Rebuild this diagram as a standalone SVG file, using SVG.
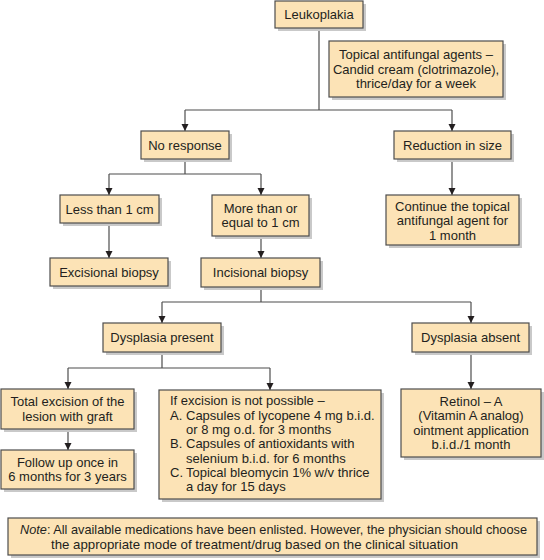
<svg xmlns="http://www.w3.org/2000/svg" width="544" height="560" viewBox="0 0 544 560">
<defs>
<style>
.box{fill:#fce3b6;stroke:#4d4d4d;stroke-width:1.2}
.sh{fill:#c9c9c9}
.t{font-family:"Liberation Sans",Arial,sans-serif;font-size:13px;fill:#231f20}
.c{text-anchor:middle}
.ln{fill:none;stroke:#4d4d4d;stroke-width:1.2}
</style>
<marker id="ar" markerWidth="8" markerHeight="8" refX="7" refY="4" orient="auto" markerUnits="userSpaceOnUse">
<path d="M0,0.5 L7,4 L0,7.5 Z" fill="#231f20"/>
</marker>
</defs>
<rect width="544" height="560" fill="#ffffff"/>
<g id="connectors">
<path class="ln" d="M319,28 V110"/>
<path class="ln" d="M185,110 H452"/>
<path class="ln" d="M185,110 V131" marker-end="url(#ar)"/>
<path class="ln" d="M452,110 V131" marker-end="url(#ar)"/>
<path class="ln" d="M185,159 V174 M109,174 H261"/>
<path class="ln" d="M109,174 V195" marker-end="url(#ar)"/>
<path class="ln" d="M261,174 V195" marker-end="url(#ar)"/>
<path class="ln" d="M452,159 V195" marker-end="url(#ar)"/>
<path class="ln" d="M109,223 V258" marker-end="url(#ar)"/>
<path class="ln" d="M261,236 V258" marker-end="url(#ar)"/>
<path class="ln" d="M261,287 V302 M162,302 H471"/>
<path class="ln" d="M162,302 V323" marker-end="url(#ar)"/>
<path class="ln" d="M471,302 V323" marker-end="url(#ar)"/>
<path class="ln" d="M162,352 V368 M68,368 H270"/>
<path class="ln" d="M68,368 V389" marker-end="url(#ar)"/>
<path class="ln" d="M270,368 V390" marker-end="url(#ar)"/>
<path class="ln" d="M471,352 V389" marker-end="url(#ar)"/>
<path class="ln" d="M68,429 V450" marker-end="url(#ar)"/>
</g>
<g id="leukoplakia">
<rect class="sh" x="278" y="4" width="88" height="27"/>
<rect class="box" x="275" y="1" width="88" height="27"/>
<text class="t c" x="319" y="19">Leukoplakia</text>
</g>
<g id="topical">
<rect class="sh" x="332" y="44" width="174" height="56"/>
<rect class="box" x="329" y="41" width="174" height="56"/>
<text class="t c" x="416" y="59">Topical antifungal agents –</text>
<text class="t c" x="416" y="73.5">Candid cream (clotrimazole),</text>
<text class="t c" x="416" y="88">thrice/day for a week</text>
</g>
<g id="no-response">
<rect class="sh" x="144" y="134" width="88" height="28"/>
<rect class="box" x="141" y="131" width="88" height="28"/>
<text class="t c" x="185" y="149.5">No response</text>
</g>
<g id="reduction">
<rect class="sh" x="397" y="134" width="117" height="28"/>
<rect class="box" x="394" y="131" width="117" height="28"/>
<text class="t c" x="452.5" y="149.5">Reduction in size</text>
</g>
<g id="less-than">
<rect class="sh" x="63" y="198" width="99" height="28"/>
<rect class="box" x="60" y="195" width="99" height="28"/>
<text class="t c" x="109.5" y="213.5">Less than 1 cm</text>
</g>
<g id="more-than">
<rect class="sh" x="215" y="198" width="97" height="41"/>
<rect class="box" x="212" y="195" width="97" height="41"/>
<text class="t c" x="260.5" y="212.5">More than or</text>
<text class="t c" x="260.5" y="227">equal to 1 cm</text>
</g>
<g id="continue">
<rect class="sh" x="389" y="198" width="133" height="50"/>
<rect class="box" x="386" y="195" width="133" height="50"/>
<text class="t c" x="452.5" y="210.5">Continue the topical</text>
<text class="t c" x="452.5" y="225">antifungal agent for</text>
<text class="t c" x="452.5" y="239.5">1 month</text>
</g>
<g id="excisional">
<rect class="sh" x="53" y="261" width="118" height="28"/>
<rect class="box" x="50" y="258" width="118" height="28"/>
<text class="t c" x="109" y="276.5">Excisional biopsy</text>
</g>
<g id="incisional">
<rect class="sh" x="204" y="261" width="119" height="29"/>
<rect class="box" x="201" y="258" width="119" height="29"/>
<text class="t c" x="260.5" y="277">Incisional biopsy</text>
</g>
<g id="dysplasia-present">
<rect class="sh" x="106" y="326" width="118" height="29"/>
<rect class="box" x="103" y="323" width="118" height="29"/>
<text class="t c" x="162" y="341.5">Dysplasia present</text>
</g>
<g id="dysplasia-absent">
<rect class="sh" x="415" y="326" width="117" height="29"/>
<rect class="box" x="412" y="323" width="117" height="29"/>
<text class="t c" x="470.5" y="341.5">Dysplasia absent</text>
</g>
<g id="total-excision">
<rect class="sh" x="4" y="392" width="133" height="40"/>
<rect class="box" x="1" y="389" width="133" height="40"/>
<text class="t c" x="67.5" y="406">Total excision of the</text>
<text class="t c" x="67.5" y="420.5">lesion with graft</text>
</g>
<g id="follow-up">
<rect class="sh" x="4" y="453" width="133" height="39"/>
<rect class="box" x="1" y="450" width="133" height="39"/>
<text class="t c" x="67.5" y="466.5">Follow up once in</text>
<text class="t c" x="67.5" y="481">6 months for 3 years</text>
</g>
<g id="if-excision">
<rect class="sh" x="162" y="393" width="222" height="109"/>
<rect class="box" x="159" y="390" width="222" height="109"/>
<text class="t" x="170" y="405">If excision is not possible –</text>
<text class="t" x="170" y="419.5">A.</text>
<text class="t" x="186" y="419.5">Capsules of lycopene 4 mg b.i.d.</text>
<text class="t" x="186" y="434">or 8 mg o.d. for 3 months</text>
<text class="t" x="170" y="448">B.</text>
<text class="t" x="186" y="448">Capsules of antioxidants with</text>
<text class="t" x="186" y="462.5">selenium b.i.d. for 6 months</text>
<text class="t" x="170" y="477">C.</text>
<text class="t" x="186" y="477">Topical bleomycin 1% w/v thrice</text>
<text class="t" x="186" y="491">a day for 15 days</text>
</g>
<g id="retinol">
<rect class="sh" x="404" y="392" width="140" height="68"/>
<rect class="box" x="401" y="389" width="140" height="68"/>
<text class="t c" x="471" y="405.5">Retinol – A</text>
<text class="t c" x="471" y="420">(Vitamin A analog)</text>
<text class="t c" x="471" y="434.5">ointment application</text>
<text class="t c" x="471" y="448.5">b.i.d./1 month</text>
</g>
<g id="note">
<rect class="sh" x="11" y="521" width="529" height="37"/>
<rect class="box" x="8" y="518" width="529" height="37"/>
<text class="t" x="20" y="534" textLength="507" lengthAdjust="spacingAndGlyphs"><tspan font-style="italic">Note</tspan>: All available medications have been enlisted. However, the physician should choose</text>
<text class="t" x="51" y="549" textLength="407" lengthAdjust="spacingAndGlyphs">the appropriate mode of treatment/drug based on the clinical situation</text>
</g>
</svg>
